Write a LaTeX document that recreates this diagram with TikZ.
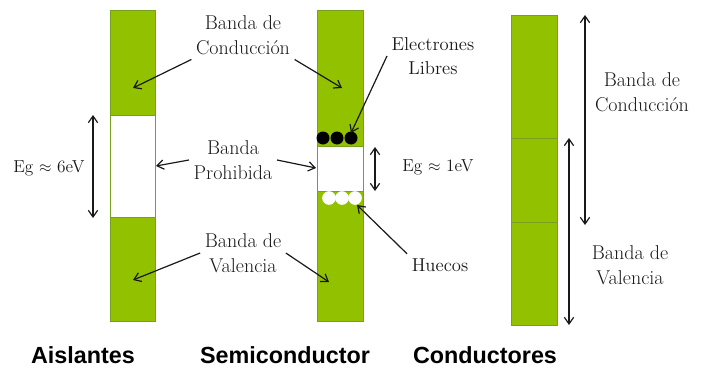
\documentclass[tikz,border=0pt]{standalone}
\usepackage{amsmath}
\usepackage{fontspec}
\newfontfamily\typefont{Liberation Sans}
\usetikzlibrary{arrows.meta}
\definecolor{bandgreen}{RGB}{146,193,0}
\definecolor{bandedge}{RGB}{120,160,30}
\definecolor{inkgray}{RGB}{25,25,25}

\tikzset{
    band/.style={fill=bandgreen, draw=bandedge, line width=0.5pt},
    gapbox/.style={fill=white, draw=bandedge, line width=0.7pt},
    bandlbl/.style={font=\fontsize{15}{19}\selectfont, align=center, text=inkgray},
    smalllbl/.style={font=\fontsize{14}{18.5}\selectfont, align=center, text=inkgray},
    eglbl/.style={font=\fontsize{13}{16}\selectfont, text=inkgray},
    typelbl/.style={font=\typefont\bfseries\fontsize{17.5}{20}\selectfont},
    pointer/.style={->, line width=0.9pt, inkgray},
    gapspan/.style={<->, line width=0.9pt, inkgray}
}

\begin{document}
\begin{tikzpicture}[>={Straight Barb[length=5pt,width=7pt]}, x=0.75pt, y=-0.75pt]

    \useasboundingbox (0,0) rectangle (703,371);

    % Aislantes
    \draw[band] (110,10) rectangle (155,321);
    \draw[gapbox] (110,115) rectangle (155,217);
    \coordinate (aCond) at (133,88);
    \coordinate (aGap) at (156,166);
    \coordinate (aVal) at (133,280);
    \coordinate (aTop) at (93,115);
    \coordinate (aBot) at (93,218);
    \node[eglbl] (egA) at (49,168) {Eg $\approx$ 6eV};
    \draw[gapspan] (aTop) -- (aBot);

    % Semiconductor
    \draw[band] (317,10) rectangle (363,321);
    \draw[gapbox] (317,146) rectangle (363,191);
    \foreach \x in {323,337,351}
        \fill[black] (\x,138) circle (6.5);
    \foreach \x in {329,342,355}
        \filldraw[fill=white, draw=white] (\x,198) circle (6.5);
    \coordinate (sCond) at (342,88);
    \coordinate (sGap) at (316,168);
    \coordinate (sVal) at (329,282);
    \coordinate (sElec) at (351,133);
    \coordinate (sHole) at (357,205);
    \coordinate (sTop) at (375,147);
    \coordinate (sBot) at (375,191);
    \node[eglbl] (egS) at (438,167) {Eg $\approx$ 1eV};
    \draw[gapspan] (sTop) -- (sBot);

    % Conductores
    \draw[band] (511,15) rectangle (557,325);
    \draw[bandedge, line width=0.5pt] (511,138) -- (557,138);
    \draw[bandedge, line width=0.5pt] (511,222) -- (557,222);
    \coordinate (cCondTop) at (585,15);
    \coordinate (cCondBot) at (585,225);
    \coordinate (cValTop) at (569,138);
    \coordinate (cValBot) at (569,325);
    \draw[gapspan] (cCondTop) -- (cCondBot);
    \draw[gapspan] (cValTop) -- (cValBot);
    \node[bandlbl] (condC) at (642,92) {Banda de\\Conducción};
    \node[bandlbl] (valC) at (630,265) {Banda de\\Valencia};

    % etiquetas comunes
    \node[bandlbl] (condL) at (243,35) {Banda de\\Conducción};
    \node[bandlbl] (prohL) at (233,160) {Banda\\Prohibida};
    \node[bandlbl] (valL) at (243,253) {Banda de\\Valencia};
    \node[smalllbl] (elecL) at (433,56) {Electrones\\Libres};
    \node[smalllbl] (holeL) at (440,265) {Huecos};

    \draw[pointer] (condL.south west) -- (aCond);
    \draw[pointer] (condL.south east) -- (sCond);
    \draw[pointer] (prohL.west) -- (aGap);
    \draw[pointer] (prohL.east) -- (sGap);
    \draw[pointer] (valL.west) -- (aVal);
    \draw[pointer] (valL.east) -- (sVal);
    \draw[pointer] (elecL.west) -- (sElec);
    \draw[pointer] (holeL.north west) -- (sHole);

    % tipos de material
    \node[typelbl] (aisl) at (83,355) {Aislantes};
    \node[typelbl] (semi) at (285,355) {Semiconductor};
    \node[typelbl] (cond) at (485,355) {Conductores};

\end{tikzpicture}
\end{document}
